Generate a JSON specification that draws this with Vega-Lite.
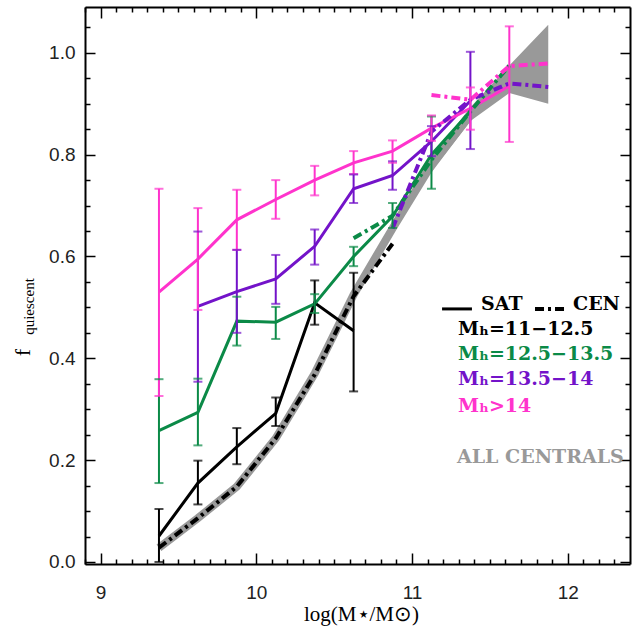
{
  "$schema": "https://vega.github.io/schema/vega-lite/v6.json",
  "width": 545,
  "height": 557,
  "autosize": {"type": "none"},
  "padding": {"left": 85, "top": 7, "right": 11, "bottom": 67},
  "background": "white",
  "config": {
    "view": {"stroke": null},
    "axis": {
      "labelFont": "Liberation Sans",
      "labelFontSize": 19,
      "labelColor": "#222222",
      "tickColor": "#000000",
      "tickWidth": 1.5,
      "domainColor": "#000000",
      "domainWidth": 2,
      "grid": false,
      "titleFont": "Liberation Serif",
      "titleFontWeight": "normal",
      "titleColor": "#000000",
      "labelOverlap": false,
      "labelFlush": false
    }
  },
  "datasets": {
    "sat": [
      {"x": 9.375, "f": 0.051, "lo": 0.0, "hi": 0.104, "g": "a"},
      {"x": 9.625, "f": 0.155, "lo": 0.113, "hi": 0.199, "g": "a"},
      {"x": 9.875, "f": 0.226, "lo": 0.192, "hi": 0.263, "g": "a"},
      {"x": 10.125, "f": 0.292, "lo": 0.267, "hi": 0.323, "g": "a"},
      {"x": 10.375, "f": 0.509, "lo": 0.466, "hi": 0.553, "g": "a"},
      {"x": 10.625, "f": 0.454, "lo": 0.335, "hi": 0.568, "g": "a"},
      {"x": 9.375, "f": 0.258, "lo": 0.155, "hi": 0.359, "g": "b"},
      {"x": 9.625, "f": 0.294, "lo": 0.229, "hi": 0.36, "g": "b"},
      {"x": 9.875, "f": 0.473, "lo": 0.425, "hi": 0.521, "g": "b"},
      {"x": 10.125, "f": 0.471, "lo": 0.438, "hi": 0.501, "g": "b"},
      {"x": 10.375, "f": 0.507, "lo": 0.489, "hi": 0.526, "g": "b"},
      {"x": 10.625, "f": 0.6, "lo": 0.581, "hi": 0.619, "g": "b"},
      {"x": 10.875, "f": 0.679, "lo": 0.656, "hi": 0.705, "g": "b"},
      {"x": 11.125, "f": 0.8, "lo": 0.733, "hi": 0.875, "g": "b"},
      {"x": 11.375, "f": 0.885, "lo": null, "hi": null, "g": "b"},
      {"x": 9.625, "f": 0.502, "lo": 0.354, "hi": 0.649, "g": "c"},
      {"x": 9.875, "f": 0.531, "lo": 0.45, "hi": 0.613, "g": "c"},
      {"x": 10.125, "f": 0.556, "lo": 0.507, "hi": 0.603, "g": "c"},
      {"x": 10.375, "f": 0.62, "lo": 0.584, "hi": 0.653, "g": "c"},
      {"x": 10.625, "f": 0.733, "lo": 0.705, "hi": 0.761, "g": "c"},
      {"x": 10.875, "f": 0.759, "lo": 0.731, "hi": 0.787, "g": "c"},
      {"x": 11.125, "f": 0.826, "lo": 0.797, "hi": 0.856, "g": "c"},
      {"x": 11.375, "f": 0.906, "lo": 0.811, "hi": 1.002, "g": "c"},
      {"x": 9.375, "f": 0.53, "lo": 0.326, "hi": 0.733, "g": "d"},
      {"x": 9.625, "f": 0.595, "lo": 0.495, "hi": 0.695, "g": "d"},
      {"x": 9.875, "f": 0.672, "lo": 0.613, "hi": 0.731, "g": "d"},
      {"x": 10.125, "f": 0.712, "lo": 0.674, "hi": 0.75, "g": "d"},
      {"x": 10.375, "f": 0.75, "lo": 0.72, "hi": 0.778, "g": "d"},
      {"x": 10.625, "f": 0.784, "lo": 0.762, "hi": 0.807, "g": "d"},
      {"x": 10.875, "f": 0.807, "lo": 0.784, "hi": 0.828, "g": "d"},
      {"x": 11.125, "f": 0.852, "lo": 0.827, "hi": 0.877, "g": "d"},
      {"x": 11.375, "f": 0.891, "lo": 0.849, "hi": 0.932, "g": "d"},
      {"x": 11.625, "f": 0.935, "lo": 0.825, "hi": 1.052, "g": "d"}
    ],
    "cen": [
      {"x": 9.375, "f": 0.028, "g": "a"},
      {"x": 9.625, "f": 0.086, "g": "a"},
      {"x": 9.875, "f": 0.148, "g": "a"},
      {"x": 10.125, "f": 0.243, "g": "a"},
      {"x": 10.375, "f": 0.368, "g": "a"},
      {"x": 10.625, "f": 0.522, "g": "a"},
      {"x": 10.875, "f": 0.625, "g": "a"},
      {"x": 10.625, "f": 0.636, "g": "b"},
      {"x": 10.875, "f": 0.68, "g": "b"},
      {"x": 11.125, "f": 0.79, "g": "b"},
      {"x": 11.375, "f": 0.885, "g": "b"},
      {"x": 11.625, "f": 0.975, "g": "b"},
      {"x": 10.875, "f": 0.655, "g": "c"},
      {"x": 11.125, "f": 0.845, "g": "c"},
      {"x": 11.375, "f": 0.908, "g": "c"},
      {"x": 11.625, "f": 0.94, "g": "c"},
      {"x": 11.875, "f": 0.933, "g": "c"},
      {"x": 11.125, "f": 0.917, "g": "d"},
      {"x": 11.375, "f": 0.908, "g": "d"},
      {"x": 11.625, "f": 0.974, "g": "d"},
      {"x": 11.875, "f": 0.979, "g": "d"}
    ],
    "allc": [
      {"x": 9.375, "f": 0.028},
      {"x": 9.625, "f": 0.086},
      {"x": 9.875, "f": 0.148},
      {"x": 10.125, "f": 0.243},
      {"x": 10.375, "f": 0.37},
      {"x": 10.625, "f": 0.525},
      {"x": 10.875, "f": 0.655},
      {"x": 11.125, "f": 0.78},
      {"x": 11.375, "f": 0.878},
      {"x": 11.625, "f": 0.948}
    ],
    "band": [
      {"x": 11.125, "lo": 0.765, "hi": 0.795},
      {"x": 11.375, "lo": 0.866, "hi": 0.893},
      {"x": 11.625, "lo": 0.921, "hi": 0.975},
      {"x": 11.875, "lo": 0.9, "hi": 1.055}
    ],
    "legtext": [
      {"x": 11.443, "y": 0.495, "t": "SAT", "g": "a"},
      {"x": 12.034, "y": 0.495, "t": "CEN", "g": "a"},
      {"x": 11.295, "y": 0.446, "t": "Mₕ=11−12.5", "g": "a"},
      {"x": 11.295, "y": 0.397, "t": "Mₕ=12.5−13.5", "g": "b"},
      {"x": 11.295, "y": 0.348, "t": "Mₕ=13.5−14", "g": "c"},
      {"x": 11.295, "y": 0.295, "t": "Mₕ>14", "g": "d"},
      {"x": 11.289, "y": 0.195, "t": "ALL CENTRALS", "g": "e"}
    ],
    "legline": [
      {"x": 11.193, "x2": 11.385, "y": 0.497, "k": "sat"},
      {"x": 11.79, "x2": 11.995, "y": 0.497, "k": "cen"}
    ]
  },
  "layer": [
    {
      "data": {"name": "band"},
      "mark": {"type": "area", "color": "#999999", "opacity": 1},
      "encoding": {
        "x": {"field": "x", "type": "quantitative", "scale": {"domain": [8.9, 12.4], "nice": false, "zero": false},
          "axis": {"orient": "bottom", "values": [9, 10, 11, 12], "format": "d", "tickSize": -11, "labelPadding": 30, "domain": true,
            "title": "log(M⋆/M⊙)", "titleFontSize": 21, "titleX": 276, "titleY": 56, "titleAlign": "center", "titleBaseline": "alphabetic"}},
        "y": {"field": "lo", "type": "quantitative", "scale": {"domain": [-0.004, 1.09], "nice": false, "zero": false},
          "axis": {"orient": "left", "values": [0, 0.2, 0.4, 0.6, 0.8, 1.0], "format": ".1f", "tickSize": -10, "labelPadding": 20, "domain": true,
            "title": "f", "titleFontSize": 22, "titleX": -63, "titleY": 345, "titleAngle": 270, "titleAlign": "center", "titleBaseline": "middle"}},
        "y2": {"field": "hi"}
      }
    },
    {
      "data": {"name": "allc"},
      "mark": {"type": "line", "color": "#999999", "strokeWidth": 8},
      "encoding": {
        "x": {"field": "x", "type": "quantitative", "scale": {"domain": [8.9, 12.4], "nice": false, "zero": false},
          "axis": {"orient": "bottom", "values": [8.9, 9.1, 9.2, 9.3, 9.4, 9.5, 9.6, 9.7, 9.8, 9.9, 10.1, 10.2, 10.3, 10.4, 10.5, 10.6, 10.7, 10.8, 10.9, 11.1, 11.2, 11.3, 11.4, 11.5, 11.6, 11.7, 11.8, 11.9, 12.1, 12.2, 12.3], "labels": false, "tickSize": -5, "domain": false, "title": null}},
        "y": {"field": "f", "type": "quantitative", "scale": {"domain": [-0.004, 1.09], "nice": false, "zero": false},
          "axis": {"orient": "left", "values": [0.05, 0.1, 0.15, 0.25, 0.3, 0.35, 0.45, 0.5, 0.55, 0.65, 0.7, 0.75, 0.85, 0.9, 0.95, 1.05], "labels": false, "tickSize": -5, "domain": false, "title": null}}
      }
    },
    {
      "data": {"name": "cen"},
      "transform": [{"filter": "datum.g == 'a'"}],
      "mark": {"type": "line", "strokeWidth": 4, "strokeDash": [9, 4, 3, 4], "color": "#000000"},
      "encoding": {
        "x": {"field": "x", "type": "quantitative", "scale": {"domain": [8.9, 12.4], "nice": false, "zero": false},
          "axis": {"orient": "top", "values": [9, 10, 11, 12], "labels": false, "tickSize": -11, "domain": true, "title": null}},
        "y": {"field": "f", "type": "quantitative", "scale": {"domain": [-0.004, 1.09], "nice": false, "zero": false},
          "axis": {"orient": "right", "values": [0, 0.2, 0.4, 0.6, 0.8, 1.0], "labels": false, "tickSize": -10, "domain": true, "title": null}}
      }
    },
    {
      "data": {"name": "sat"},
      "mark": {"type": "line", "strokeWidth": 3},
      "encoding": {
        "x": {"field": "x", "type": "quantitative", "scale": {"domain": [8.9, 12.4], "nice": false, "zero": false},
          "axis": {"orient": "top", "values": [8.9, 9.1, 9.2, 9.3, 9.4, 9.5, 9.6, 9.7, 9.8, 9.9, 10.1, 10.2, 10.3, 10.4, 10.5, 10.6, 10.7, 10.8, 10.9, 11.1, 11.2, 11.3, 11.4, 11.5, 11.6, 11.7, 11.8, 11.9, 12.1, 12.2, 12.3], "labels": false, "tickSize": -5, "domain": false, "title": null}},
        "y": {"field": "f", "type": "quantitative", "scale": {"domain": [-0.004, 1.09], "nice": false, "zero": false},
          "axis": {"orient": "right", "values": [0.05, 0.1, 0.15, 0.25, 0.3, 0.35, 0.45, 0.5, 0.55, 0.65, 0.7, 0.75, 0.85, 0.9, 0.95, 1.05], "labels": false, "tickSize": -5, "domain": false, "title": null}},
        "color": {"field": "g", "type": "nominal", "scale": {"domain": ["a", "b", "c", "d", "e"], "range": ["#000000", "#0b8a47", "#7313c9", "#ff33cc", "#999999"]}, "legend": null},
        "detail": {"field": "g"}
      }
    },
    {
      "data": {"name": "cen"},
      "transform": [{"filter": "datum.g != 'a'"}],
      "mark": {"type": "line", "strokeWidth": 4, "strokeDash": [9, 4, 3, 4]},
      "encoding": {
        "x": {"field": "x", "type": "quantitative", "scale": {"domain": [8.9, 12.4], "nice": false, "zero": false}, "axis": null},
        "y": {"field": "f", "type": "quantitative", "scale": {"domain": [-0.004, 1.09], "nice": false, "zero": false}, "axis": null},
        "color": {"field": "g", "type": "nominal", "legend": null},
        "detail": {"field": "g"}
      }
    },
    {
      "data": {"name": "sat"},
      "transform": [{"filter": "datum.lo != null"}],
      "mark": {"type": "rule", "strokeWidth": 2},
      "encoding": {
        "x": {"field": "x", "type": "quantitative", "scale": {"domain": [8.9, 12.4], "nice": false, "zero": false}, "axis": null},
        "y": {"field": "lo", "type": "quantitative", "scale": {"domain": [-0.004, 1.09], "nice": false, "zero": false},
          "axis": {"orient": "left", "labels": false, "ticks": false, "domain": false, "title": "quiescent", "titleFontSize": 15, "titleX": -57, "titleY": 299, "titleAngle": 270, "titleAlign": "center", "titleBaseline": "middle"}},
        "y2": {"field": "hi"},
        "color": {"field": "g", "type": "nominal", "legend": null}
      }
    },
    {
      "data": {"name": "sat"},
      "transform": [{"filter": "datum.lo != null"}],
      "mark": {"type": "tick", "orient": "horizontal", "size": 9, "thickness": 2},
      "encoding": {
        "x": {"field": "x", "type": "quantitative", "scale": {"domain": [8.9, 12.4], "nice": false, "zero": false}, "axis": null},
        "y": {"field": "lo", "type": "quantitative", "scale": {"domain": [-0.004, 1.09], "nice": false, "zero": false}, "axis": null},
        "color": {"field": "g", "type": "nominal", "legend": null}
      }
    },
    {
      "data": {"name": "sat"},
      "transform": [{"filter": "datum.lo != null"}],
      "mark": {"type": "tick", "orient": "horizontal", "size": 9, "thickness": 2},
      "encoding": {
        "x": {"field": "x", "type": "quantitative", "scale": {"domain": [8.9, 12.4], "nice": false, "zero": false}, "axis": null},
        "y": {"field": "hi", "type": "quantitative", "scale": {"domain": [-0.004, 1.09], "nice": false, "zero": false}, "axis": null},
        "color": {"field": "g", "type": "nominal", "legend": null}
      }
    },
    {
      "data": {"name": "legline"},
      "transform": [{"filter": "datum.k == 'sat'"}],
      "mark": {"type": "rule", "strokeWidth": 3, "color": "#000000"},
      "encoding": {
        "x": {"field": "x", "type": "quantitative", "axis": null},
        "x2": {"field": "x2"},
        "y": {"field": "y", "type": "quantitative", "axis": null}
      }
    },
    {
      "data": {"name": "legline"},
      "transform": [{"filter": "datum.k == 'cen'"}],
      "mark": {"type": "rule", "strokeWidth": 4, "color": "#000000", "strokeDash": [9, 4, 3, 4]},
      "encoding": {
        "x": {"field": "x", "type": "quantitative", "axis": null},
        "x2": {"field": "x2"},
        "y": {"field": "y", "type": "quantitative", "axis": null}
      }
    },
    {
      "data": {"name": "legtext"},
      "mark": {"type": "text", "align": "left", "baseline": "alphabetic", "font": "DejaVu Serif", "fontWeight": "bold", "fontSize": 19},
      "encoding": {
        "x": {"field": "x", "type": "quantitative", "axis": null},
        "y": {"field": "y", "type": "quantitative", "axis": null},
        "text": {"field": "t"},
        "color": {"field": "g", "type": "nominal", "legend": null}
      }
    }
  ],
  "resolve": {"axis": {"x": "independent", "y": "independent"}}
}
